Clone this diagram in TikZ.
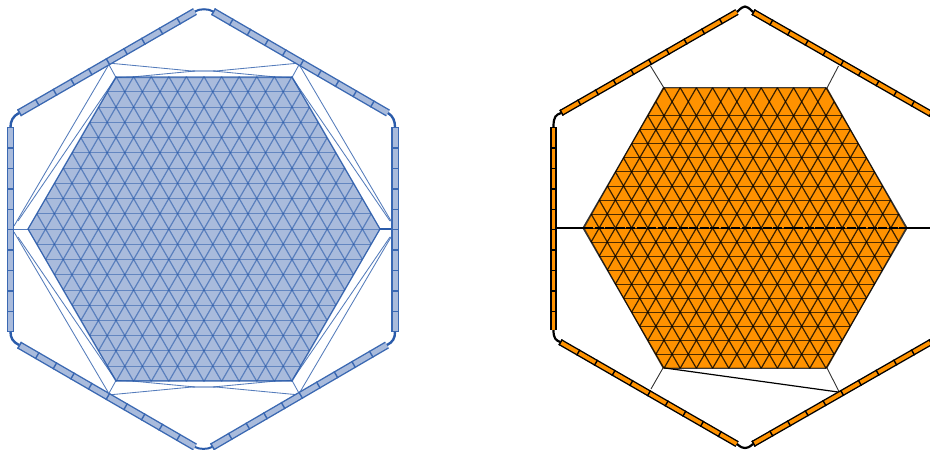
\documentclass[tikz,border=0pt]{standalone}
\definecolor{bfill}{HTML}{A9BBDC}
\definecolor{bline}{HTML}{2A5BAA}
\definecolor{bedge}{HTML}{3A68B2}
\definecolor{ofill}{HTML}{FF9200}
\tikzset{
  bthin/.style={bline,line width=0.85pt,draw opacity=0.8},
  bmesh/.style={bline,line width=1.2pt,draw opacity=0.62},
  brow/.style={bline,line width=0.9pt,draw opacity=0.55},
  omesh/.style={black,line width=1.2pt,draw opacity=0.78},
  orow/.style={black,line width=0.8pt,draw opacity=0.7},
  othin/.style={black,line width=0.9pt,draw opacity=0.8},
}
% cx cy s diagonal-style skiprow row-style
\newcommand{\hexmesh}[6]{%
  \foreach \i in {0,...,20}{%
    \pgfmathtruncatemacro\k{min(\i,20-\i)}%
    \pgfmathtruncatemacro\n{10+\k}%
    \pgfmathsetmacro\yy{#2+(\i-10)*#3*0.866}%
    \pgfmathsetmacro\yn{\yy+#3*0.866}%
    \pgfmathsetmacro\xl{#1-(10+\k)*#3/2}%
    \pgfmathsetmacro\xr{#1+(10+\k)*#3/2}%
    \ifnum\i=#5\relax\else
      \draw[#6] (\xl,\yy) -- (\xr,\yy);%
    \fi
    \ifnum\i<20
      \foreach \j in {0,...,\n}{%
        \pgfmathsetmacro\xx{\xl+\j*#3}%
        \pgfmathsetmacro\xa{\xx-#3/2}%
        \pgfmathsetmacro\xb{\xx+#3/2}%
        \ifnum\i<10
          \draw[#4] (\xx,\yy) -- (\xa,\yn);%
          \draw[#4] (\xx,\yy) -- (\xb,\yn);%
        \else
          \ifnum\j>0 \draw[#4] (\xx,\yy) -- (\xa,\yn);\fi
          \ifnum\j<\n \draw[#4] (\xx,\yy) -- (\xb,\yn);\fi
        \fi
      }%
    \fi
  }%
}
% edge colour, fill colour, outer width, inner width, then ends
\newcommand{\panel}[6]{%
  \draw[#1,line width=#3pt] (#5) -- (#6);%
  \draw[#2,line width=#4pt] (#5) -- (#6);%
  \draw[#1,line width=#3pt,dash pattern=on 1.4pt off 19pt] (#5) -- (#6);%
}
\begin{document}
\begin{tikzpicture}[x=1pt,y=-1pt]
\useasboundingbox (0,0) rectangle (930,450);
\clip (0,0) rectangle (930,450);
% ---------- blue ----------
\fill[bfill] (28,229) -- (116,77.5) -- (292,77.5) -- (380,229) -- (292,380.5) -- (116,380.5) -- cycle;
\hexmesh{204}{229}{17.6}{bmesh}{-1}{brow}
\draw[bline,line width=1pt,draw opacity=0.8] (28,229) -- (116,77.5) -- (292,77.5) -- (380,229) -- (292,380.5) -- (116,380.5) -- cycle;
% thin connections
\foreach \a/\b in {1/1,-1/1,1/-1,-1/-1}{
  \begin{scope}[shift={(204,229)},xscale=\a,yscale=\b]
    \coordinate (tn) at (-96,-166);
    \coordinate (ic) at (-88,-151.5);
    \draw[bthin] (tn) -- (ic);
    \draw[bthin] (tn) -- (-12,-158);
    \draw[bthin] (ic) -- (-72,-152) -- (-9,-158);
    \draw[bthin] (-96,-163) -- (-190,-3);
    \draw[bthin] (-89,-150) -- (-186,-8);
    \draw[bline,line width=2pt,draw opacity=0.45] (-12,-158) -- (0,-158);
  \end{scope}
}
\draw[bthin] (14,229) -- (28,229);
\draw[bline,line width=1.1pt] (380,229) -- (395,229);
\panel{bedge}{bfill}{7.8}{5}{19,113}{195,11.5}
\panel{bedge}{bfill}{7.8}{5}{213,11.5}{388,113}
\panel{bedge}{bfill}{7.8}{5}{10.5,127}{10.5,332}
\panel{bedge}{bfill}{7.8}{5}{395,127}{395,332}
\panel{bedge}{bfill}{7.8}{5}{19,345}{195,447}
\panel{bedge}{bfill}{7.8}{5}{212,447}{387,345}
\draw[bline,line width=2pt] (195,11.5) .. controls (199,8.5) and (209,8.5) .. (213,11.5);
\draw[bline,line width=2pt] (195,447) .. controls (199,449.5) and (208,449.5) .. (212,447);
\draw[bline,line width=2.4pt] (19,113) .. controls (13,116) and (10.5,121) .. (10.5,127);
\draw[bline,line width=2.4pt] (388,113) .. controls (393,116) and (395,121) .. (395,127);
\draw[bline,line width=2.4pt] (19,345) .. controls (13,342) and (10.5,338) .. (10.5,332);
\draw[bline,line width=2.4pt] (387,345) .. controls (393,342) and (395,338) .. (395,332);
% ---------- orange ----------
\fill[ofill] (584,228) -- (663,88) -- (827,88) -- (906,228) -- (827,368) -- (663,368) -- cycle;
\hexmesh{745}{228}{16.2}{omesh}{1}{orow}
\draw[black,line width=0.9pt,draw opacity=0.6] (584,228) -- (663,88) -- (827,88) -- (906,228) -- (827,368) -- (663,368) -- cycle;
\draw[black,line width=2pt] (553,228) -- (584,228);
\draw[black,line width=1.7pt,dash pattern=on 9pt off 1.5pt] (584,228) -- (906,228);
\draw[black,line width=2pt] (906,228) -- (930,228);
\draw[othin] (664,88) -- (650.5,66);
\draw[othin] (827,88) -- (838.5,66);
\draw[othin] (663,368) -- (651,389);
\draw[othin] (827,368) -- (839,391.5);
\draw[black,line width=1.2pt] (665,368) -- (838,392);
\panel{black}{ofill}{6.6}{3.8}{561,113}{737,12}
\panel{black}{ofill}{6.6}{3.8}{753,12}{945,122}
\panel{black}{ofill}{6.6}{3.8}{553.5,127}{553.5,330}
\panel{black}{ofill}{6.6}{3.8}{560,342}{737,444}
\panel{black}{ofill}{6.6}{3.8}{753,444}{945,334}
\draw[black,line width=2.2pt] (737,12) .. controls (741,8) and (743,6.5) .. (745,6.5) .. controls (747,6.5) and (749,8) .. (753,12);
\draw[black,line width=2.2pt] (737,444) .. controls (741,447.5) and (743,448) .. (745,448) .. controls (747,448) and (749,447.5) .. (753,444);
\draw[black,line width=2.2pt] (561,113) .. controls (556,115) and (553.5,116) .. (553.5,127);
\draw[black,line width=2.2pt] (560,342) .. controls (556,340) and (553.5,339) .. (553.5,330);
\end{tikzpicture}
\end{document}
